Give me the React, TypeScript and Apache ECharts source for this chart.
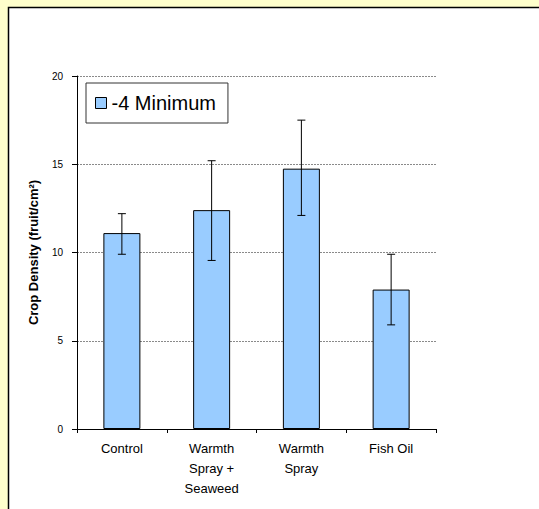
import React, { useEffect, useRef } from "react";
import * as echarts from "echarts";

const categories = ["Control", "Warmth\nSpray +\nSeaweed", "Warmth\nSpray", "Fish Oil"];
const seriesName = "-4 Minimum";
const means = [11.1, 12.4, 14.75, 7.9];
const errLow = [9.9, 9.55, 12.1, 5.9];
const errHigh = [12.2, 15.2, 17.5, 9.9];
const yTicks = { min: 0, max: 20, interval: 5 };
const yTitle = "Crop Density (fruit/cm²)";

export default function App() {
  const ref = useRef<HTMLDivElement>(null);
  useEffect(() => {
    if (!ref.current) return;
    const chart = echarts.init(ref.current, null, { renderer: "svg" });
    const errData = means.map((_, i) => [i, errLow[i], errHigh[i]]);
    chart.setOption({
      animation: false,
      backgroundColor: "#FFFFCC",
      textStyle: { fontFamily: "Liberation Sans, Arial, sans-serif" },
      graphic: [
        {
          type: "rect",
          z: -100,
          silent: true,
          shape: { x: 8.5, y: 7.5, width: 600, height: 600 },
          style: { fill: "#ffffff", stroke: "#000000", lineWidth: 1.5 },
        },
      ],
      grid: { left: 77, top: 76, right: 103, bottom: 80, containLabel: false },
      legend: {
        data: [{ name: seriesName, icon: "rect" }],
        left: 86,
        top: 83,
        orient: "vertical",
        backgroundColor: "#ffffff",
        borderColor: "#333333",
        borderWidth: 1,
        padding: [10, 12, 10, 9],
        itemWidth: 11,
        itemHeight: 11,
        itemGap: 6,
        itemStyle: { color: "#99CCFF", borderColor: "#000", borderWidth: 1 },
        textStyle: { fontSize: 20, color: "#000", fontFamily: "Liberation Sans, Arial, sans-serif" },
      },
      xAxis: {
        type: "category",
        data: categories,
        boundaryGap: true,
        axisLine: { show: true, lineStyle: { color: "#000", width: 1 } },
        axisTick: { show: true, length: 4, alignWithLabel: false, lineStyle: { color: "#000" } },
        axisLabel: {
          color: "#000",
          fontSize: 13,
          lineHeight: 20,
          margin: 9,
          interval: 0,
          fontFamily: "Liberation Sans, Arial, sans-serif",
        },
        splitLine: { show: false },
      },
      yAxis: {
        type: "value",
        min: yTicks.min,
        max: yTicks.max,
        interval: yTicks.interval,
        name: yTitle,
        nameLocation: "middle",
        nameGap: 37,
        nameTextStyle: {
          fontSize: 13,
          fontWeight: "bold",
          color: "#000",
          fontFamily: "Liberation Sans, Arial, sans-serif",
        },
        axisLine: { show: true, lineStyle: { color: "#000", width: 1 } },
        axisTick: { show: true, length: 5, lineStyle: { color: "#000" } },
        axisLabel: { color: "#000", fontSize: 10, margin: 14, fontFamily: "Liberation Sans, Arial, sans-serif" },
        splitLine: { show: true, lineStyle: { color: "#8a8a8a", width: 1, type: [2, 1] } },
      },
      series: [
        {
          name: seriesName,
          type: "bar",
          data: means,
          barWidth: 37,
          itemStyle: { color: "#99CCFF", borderColor: "#000", borderWidth: 1 },
          z: 2,
        },
        {
          type: "custom",
          name: "err",
          data: errData,
          z: 5,
          renderItem: (params: any, api: any) => {
            const idx = api.value(0);
            const lo = api.coord([idx, api.value(1)]);
            const hi = api.coord([idx, api.value(2)]);
            const hw = 4;
            const style = { stroke: "#000", lineWidth: 1 };
            return {
              type: "group",
              children: [
                { type: "line", shape: { x1: lo[0], y1: lo[1], x2: hi[0], y2: hi[1] }, style },
                { type: "line", shape: { x1: hi[0] - hw, y1: hi[1], x2: hi[0] + hw, y2: hi[1] }, style },
                { type: "line", shape: { x1: lo[0] - hw, y1: lo[1], x2: lo[0] + hw, y2: lo[1] }, style },
              ],
            };
          },
        },
      ],
    });
    return () => chart.dispose();
  }, []);
  return (
    <div
      ref={ref}
      style={{ position: "fixed", left: 0, top: 0, width: 539, height: 509 }}
    />
  );
}
